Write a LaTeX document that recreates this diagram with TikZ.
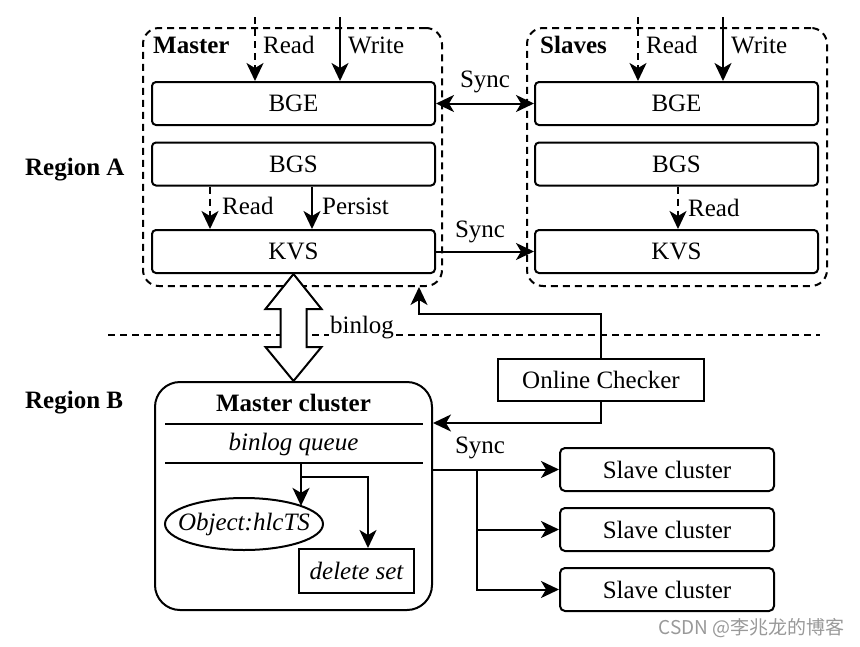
\documentclass[tikz,border=0pt]{standalone}
\usepackage{fontspec}
\setmainfont{Liberation Serif}
\newfontfamily\cjkfont{Noto Sans CJK SC}
\usetikzlibrary{arrows.meta,shapes.geometric,calc}
\begin{document}
\begin{tikzpicture}[x=1pt,y=-1pt,
  font=\fontsize{25}{30}\selectfont,
  lw/.style={line width=2pt},
  tip/.tip={Stealth[length=18pt,width=17pt,inset=5pt]},
  box/.style={draw,lw,rounded corners=4pt,minimum width=283pt,minimum height=43pt,inner sep=0pt},
  grp/.style={draw,lw,dash pattern=on 7pt off 5pt,rounded corners=16pt,inner sep=0pt},
  sbox/.style={draw,lw,rounded corners=5pt,minimum width=214pt,minimum height=43pt,inner sep=0pt},
  pbox/.style={draw,lw,inner sep=0pt},
  arr/.style={lw,-tip},
  darr/.style={arr,dash pattern=on 7pt off 5pt},
  biarr/.style={lw,tip-tip},
  lbl/.style={anchor=west,inner sep=0pt},
  clbl/.style={inner sep=0pt},
  hollow/.style={lw,fill=white,line join=miter}
]
\useasboundingbox (0,0) rectangle (860,646);

% Region labels
\node[lbl,font=\fontsize{25}{30}\selectfont\bfseries] (ra) at (25,170) {Region A};
\node[lbl,font=\fontsize{25}{30}\selectfont\bfseries] (rb) at (25,403) {Region B};

% dashed groups
\node[grp,minimum width=299pt,minimum height=258pt] (mgrp) at (292.5,157) {};
\node[grp,minimum width=300pt,minimum height=258pt] (sgrp) at (677,157) {};

% master boxes
\node[box] (mbge) at (293.5,103.5) {BGE};
\node[box] (mbgs) at (293.5,164) {BGS};
\node[box] (mkvs) at (293.5,251.5) {KVS};
% slave boxes
\node[box] (sbge) at (676.5,103.5) {BGE};
\node[box] (sbgs) at (676.5,164) {BGS};
\node[box] (skvs) at (676.5,251.5) {KVS};

\node[lbl,font=\fontsize{25}{30}\selectfont\bfseries] (mlab) at (153,45) {Master};
\node[lbl,font=\fontsize{25}{30}\selectfont\bfseries] (slab) at (540,45) {Slaves};

% incoming read / write
\coordinate (mr) at (255,17);
\coordinate (mw) at (340,17);
\coordinate (sr) at (638,17);
\coordinate (sw) at (723,17);
\draw[darr] (mr) -- (mr |- mbge.north);
\draw[arr] (mw) -- (mw |- mbge.north);
\draw[darr] (sr) -- (sr |- sbge.north);
\draw[arr] (sw) -- (sw |- sbge.north);
\node[lbl] (mrl) at (263,45) {Read};
\node[lbl] (mwl) at (348,45) {Write};
\node[lbl] (srl) at (646,45) {Read};
\node[lbl] (swl) at (731,45) {Write};

% sync between master and slaves
\draw[biarr] (mbge.east) -- (sbge.west);
\node[clbl] (sy1) at (485,82) {Sync};
\draw[arr] (mkvs.east) -- (skvs.west);
\node[clbl] (sy2) at (480,232) {Sync};

% internal arrows
\draw[darr] ([xshift=-83.5pt]mbgs.south) -- ([xshift=-83.5pt]mkvs.north);
\draw[arr] ([xshift=18.5pt]mbgs.south) -- ([xshift=18.5pt]mkvs.north);
\node[lbl] (mrd) at (222,206) {Read};
\node[lbl] (mps) at (322,206) {Persist};
\draw[darr] ([xshift=1.5pt]sbgs.south) -- ([xshift=1.5pt]skvs.north);
\node[lbl] (srd) at (688,208) {Read};

% region separator
\coordinate (dl1) at (108,335);
\coordinate (dl2) at (820,335);
\draw[lw,dash pattern=on 7pt off 5pt] (dl1) -- (dl2);

% master cluster
\node[draw,lw,rounded corners=25pt,minimum width=277pt,minimum height=228pt,inner sep=0pt] (mc) at (293.5,496) {};
\node[clbl,font=\fontsize{25}{30}\selectfont\bfseries] (mct) at (293.5,403) {Master cluster};
\coordinate (l1a) at (165,424);
\coordinate (l1b) at (423,424);
\draw[lw] (l1a) -- (l1b);
\node[clbl,font=\fontsize{25}{30}\selectfont\itshape] (bql) at (293.5,444) {binlog queue};
\coordinate (l2a) at (165,463);
\coordinate (l2b) at (423,463);
\draw[lw] (l2a) -- (l2b);

% hollow double arrow
\draw[hollow] (mkvs.south) -- ++(28,35) -- ++(-15,0) -- ++(0,38) -- ++(15,0) -- (mc.north)
  -- ++(-28,-34) -- ++(15,0) -- ++(0,-38) -- ++(-15,0) -- cycle;
\node[clbl,fill=white,inner sep=1pt] (binl) at (362,328) {binlog};

% object ellipse and delete set
\node[draw,lw,ellipse,minimum width=158pt,minimum height=52pt,inner sep=0pt] (ob) at (244,524) {};
\node[clbl,font=\fontsize{25}{30}\selectfont\itshape] (obt) at (ob.center) {Object:hlcTS};
\node[pbox,minimum width=115pt,minimum height=44pt,font=\fontsize{25}{30}\selectfont\itshape] (ds) at (356.5,571) {delete set};
\coordinate (bq) at (301,463);
\coordinate (br) at (301,477);
\draw[arr] (bq) -- (bq |- ob.17.5);
\draw[arr] (br) -| ([xshift=11.5pt]ds.north);

% online checker
\node[pbox,minimum width=206pt,minimum height=42pt] (oc) at (601,380) {Online Checker};
\draw[arr] (oc.north) -- ++(0,-44) -| ([xshift=126.5pt]mgrp.south);
\draw[arr] (oc.south) |- ([yshift=73pt]mc.east);

% slave clusters
\node[sbox] (sc1) at (667,469.5) {Slave cluster};
\node[sbox] (sc2) at (667,529.5) {Slave cluster};
\node[sbox] (sc3) at (667,589.5) {Slave cluster};
\coordinate (sb) at (477,469.5);
\draw[arr] (sc1.west -| mc.east) -- (sc1.west);
\draw[arr] (sb) |- (sc2.west);
\draw[arr] (sb) |- (sc3.west);
\node[clbl] (sy3) at (480,448) {Sync};

% watermark
\node[anchor=east,inner sep=0pt,text=black!40,font=\cjkfont\fontsize{19}{22}\selectfont] (wm) at (845,628) {CSDN @李兆龙的博客};
\end{tikzpicture}
\end{document}
